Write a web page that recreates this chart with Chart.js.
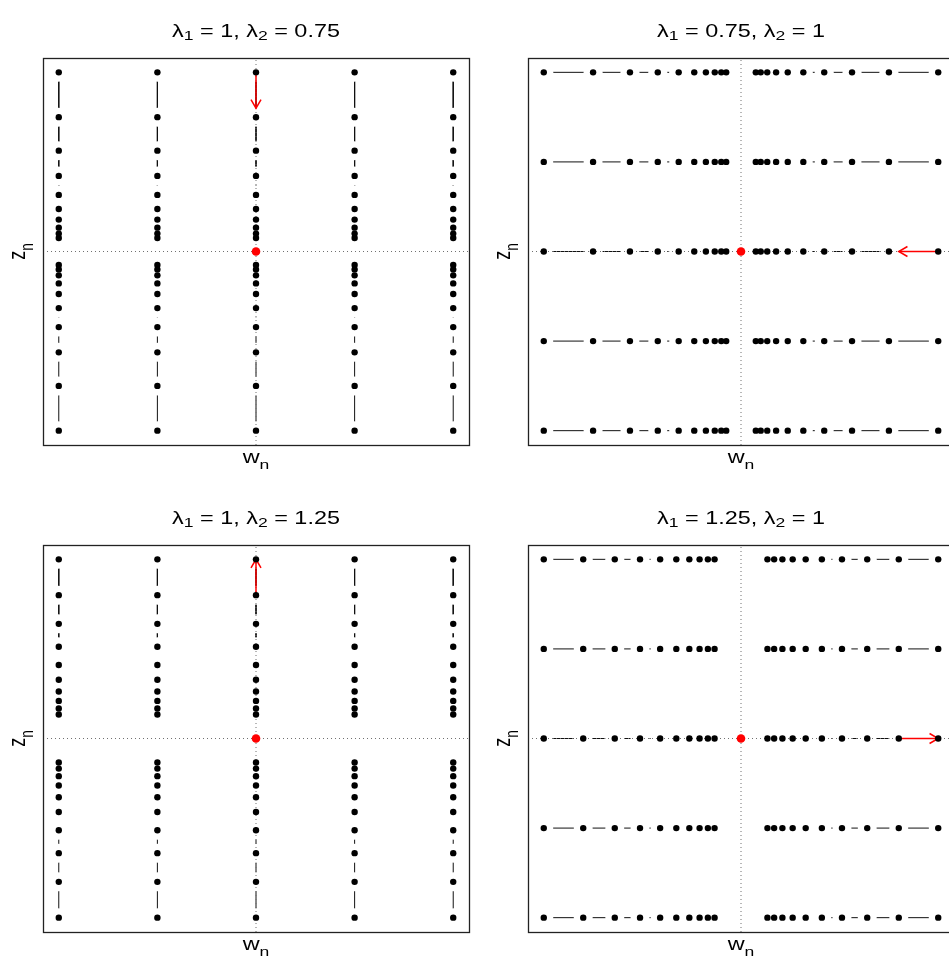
<!DOCTYPE html>
<html lang="en">
<head>
<meta charset="UTF-8">
<title>Orbits near a fixed point</title>
<script src="https://cdn.jsdelivr.net/npm/chart.js"></script>
<style>
  html, body { margin: 0; padding: 0; background: #fff; overflow: hidden; width: 949px; height: 959px; }
  canvas { position: absolute; }
</style>
</head>
<body>
<canvas id="p0" width="490" height="480" style="left:0px;top:0px"></canvas>
<canvas id="p1" width="490" height="480" style="left:485px;top:0px"></canvas>
<canvas id="p2" width="490" height="480" style="left:0px;top:487px"></canvas>
<canvas id="p3" width="490" height="480" style="left:485px;top:487px"></canvas>
<script>
// lines of orbits sit at these fixed positions (w for columns, z for rows)
const linePos = [-2, -1, 0, 1, 2];
// distance from the fixed point, step by step
const orbit075 = [1, 0.75, 0.563, 0.422, 0.316, 0.237, 0.178, 0.133, 0.1, 0.075];
const orbit080 = [1, 0.8, 0.64, 0.512, 0.41, 0.328, 0.262, 0.21, 0.168, 0.134];
const lambda1 = ['1', '0.75', '1', '1.25'];
const lambda2 = ['0.75', '1', '1.25', '1'];
const orbitDir = ['v', 'h', 'v', 'h'];
const orbitVals = [orbit075, orbit075, orbit080, orbit080];
const arrowFrom = [1, 1, 0.8, 0.8];
const arrowTo = [0.8, 0.8, 1, 1];
const limLong = 2.16, limShort = 1.08;

const FONT = '"Liberation Sans", Arial, sans-serif';
const SX = 1.3;

function drawRich(ctx, parts, x, y, size, subDrop, rotate) {
    ctx.save();
    ctx.translate(x, y);
    ctx.scale(SX, 1);
    if (rotate) ctx.rotate(-Math.PI / 2);
    ctx.fillStyle = '#000';
    ctx.textBaseline = 'alphabetic';
    ctx.textAlign = 'left';
    let total = 0;
    const widths = parts.map(p => {
        ctx.font = (p.sub ? size * 0.75 : size) + 'px ' + FONT;
        const w = ctx.measureText(p.t).width;
        total += w;
        return w;
    });
    let cx = -total / 2;
    parts.forEach((p, i) => {
        ctx.font = (p.sub ? size * 0.75 : size) + 'px ' + FONT;
        ctx.fillText(p.t, cx, p.sub ? subDrop : 0);
        cx += widths[i];
    });
    ctx.restore();
}

const decorPlugin = {
    id: 'decor',
    afterDatasetDraw(chart, args) {
        if (args.meta._dataset.label !== 'arrow') return;
        const pts = args.meta.data;
        const a = pts[0], b = pts[1];
        const ang = Math.atan2(b.y - a.y, b.x - a.x);
        const ctx = chart.ctx;
        ctx.save();
        ctx.strokeStyle = '#ff0000';
        ctx.lineWidth = 1.5;
        ctx.beginPath();
        const len = 10, spread = Math.PI / 6;
        ctx.moveTo(b.x - len * Math.cos(ang - spread), b.y - len * Math.sin(ang - spread));
        ctx.lineTo(b.x, b.y);
        ctx.lineTo(b.x - len * Math.cos(ang + spread), b.y - len * Math.sin(ang + spread));
        ctx.stroke();
        ctx.restore();
    },
    afterDraw(chart) {
        const ctx = chart.ctx;
        const area = chart.chartArea;
        const k = chart.options.plugins.decor.panel;
        ctx.save();
        ctx.strokeStyle = '#222';
        ctx.lineWidth = 1.3;
        ctx.strokeRect(Math.round(area.left) + 0.5, Math.round(area.top) + 0.5,
            Math.round(area.right - area.left), Math.round(area.bottom - area.top));
        ctx.restore();
        const cx = (area.left + area.right) / 2;
        const cy = (area.top + area.bottom) / 2;
        drawRich(ctx, [
            {t: '\u03bb'}, {t: '1', sub: true}, {t: ' = ' + lambda1[k] + ', '},
            {t: '\u03bb'}, {t: '2', sub: true}, {t: ' = ' + lambda2[k]}
        ], cx, area.top - 21, 18, 3, false);
        drawRich(ctx, [{t: 'w'}, {t: 'n', sub: true}], cx, area.bottom + 18, 18, 6, false);
        drawRich(ctx, [{t: 'z'}, {t: 'n', sub: true}], area.left - 18, cy, 18, 6, true);
    }
};

function buildPanel(k) {
    const vals = orbitVals[k];
    const vertical = orbitDir[k] === 'v';
    const xLim = vertical ? limLong : limShort;
    const yLim = vertical ? limShort : limLong;
    const datasets = [];
    const allPts = [];
    linePos.forEach(c => {
        [1, -1].forEach(s => {
            const pts = vals.map(v => vertical ? {x: c, y: s * v} : {x: s * v, y: c});
            allPts.push(...pts);
            datasets.push({
                data: pts, showLine: true, borderColor: '#111', borderWidth: 1,
                pointRadius: 0, order: 5
            });
        });
    });
    // white gaps around points, like R type = "b"
    datasets.push({
        data: allPts, showLine: false, pointRadius: 9.5,
        pointBackgroundColor: '#fff', pointBorderWidth: 0, order: 4
    });
    // dotted axes through the fixed point
    datasets.push({
        data: [{x: 0, y: -yLim}, {x: 0, y: yLim}], showLine: true,
        borderColor: '#707070', borderWidth: 1, borderDash: [1, 3], pointRadius: 0, order: 3
    });
    datasets.push({
        data: [{x: -xLim, y: 0}, {x: xLim, y: 0}], showLine: true,
        borderColor: '#707070', borderWidth: 1, borderDash: [1, 3], pointRadius: 0, order: 3
    });
    const arrow = vertical
        ? [{x: 0, y: arrowFrom[k]}, {x: 0, y: arrowTo[k]}]
        : [{x: arrowFrom[k], y: 0}, {x: arrowTo[k], y: 0}];
    datasets.push({
        label: 'arrow', data: arrow, showLine: true, borderColor: '#ff0000',
        borderWidth: 1.5, pointRadius: 0, order: 2
    });
    datasets.push({
        data: allPts, showLine: false, pointRadius: 3.2,
        pointBackgroundColor: '#000', pointBorderWidth: 0, order: 1
    });
    datasets.push({
        data: [{x: 0, y: 0}], showLine: false, pointRadius: 4.3,
        pointBackgroundColor: '#ff0000', pointBorderWidth: 0, order: 0
    });

    new Chart(document.getElementById('p' + k), {
        type: 'scatter',
        data: { datasets: datasets },
        options: {
            responsive: false,
            animation: false,
            events: [],
            layout: { padding: { left: 43, top: 58, right: 21, bottom: 35 } },
            scales: {
                x: { type: 'linear', min: -xLim, max: xLim, display: false },
                y: { type: 'linear', min: -yLim, max: yLim, display: false }
            },
            plugins: {
                legend: { display: false },
                tooltip: { enabled: false },
                decor: { panel: k }
            }
        },
        plugins: [decorPlugin]
    });
}

[0, 1, 2, 3].forEach(buildPanel);
</script>
</body>
</html>
